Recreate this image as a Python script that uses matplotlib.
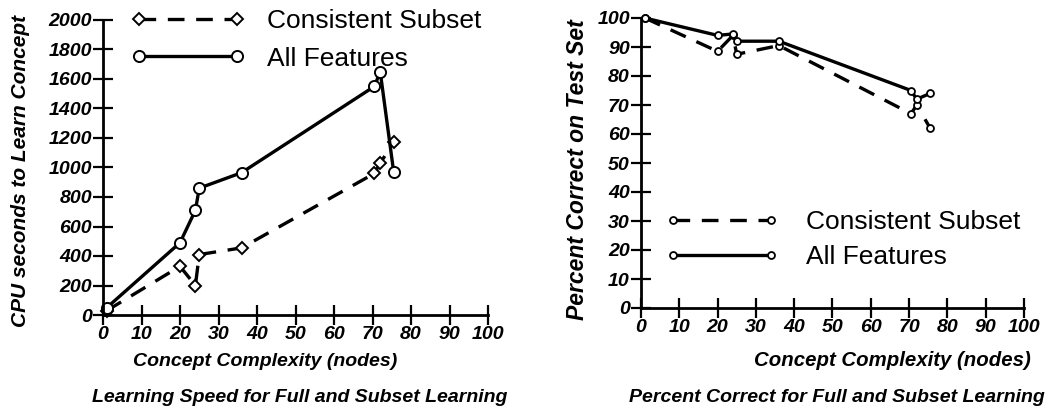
import matplotlib.pyplot as plt
from matplotlib.ticker import MultipleLocator

plt.rcParams['font.family'] = ['Liberation Sans', 'DejaVu Sans']

# concept complexity (nodes) of the test concepts
complexity = [1, 20, 24, 25, 36, 70.5, 72, 75.5]

# learning speed, CPU seconds
cpu_all = [50, 490, 710, 860, 965, 1550, 1650, 970]
cpu_subset = [30, 330, 200, 410, 455, 960, 1030, 1170]

# percent correct on test set
pct_all = [100, 94, 94.5, 92, 92, 75, 72, 74]
pct_subset = [100, 88.5, 94, 87.5, 90.5, 67, 70, 62]

labels = ['Consistent Subset', 'All Features']
x_ticks = list(range(0, 101, 10))

W, H = 1055, 417
fig = plt.figure(figsize=(W / 100, H / 100), dpi=100)


def px_axes(x0, x1, y_top, y_bot):
    return fig.add_axes([x0 / W, 1 - y_bot / H, (x1 - x0) / W, (y_bot - y_top) / H])


def style_axes(ax, ymax, ystep):
    for side in ['top', 'right']:
        ax.spines[side].set_visible(False)
    for side in ['left', 'bottom']:
        ax.spines[side].set_linewidth(2)
    ax.set_xlim(0, 100)
    ax.set_ylim(0, ymax)
    ax.set_xticks(x_ticks)
    ax.yaxis.set_major_locator(MultipleLocator(ystep))
    ax.tick_params(axis='both', which='major', direction='inout', length=14, width=1.6,
                   labelsize=14, pad=1)
    for lab in ax.get_xticklabels() + ax.get_yticklabels():
        lab.set_fontstyle('italic')
        lab.set_fontweight('bold')


def lab_font(size):
    return dict(fontsize=size, fontstyle='italic', fontweight='bold')


leg_font = dict(size=19)

# ---- left: learning speed
ax1 = px_axes(103, 488, 20, 315)
style_axes(ax1, 2000, 200)
ax1.plot(complexity, cpu_subset, color='black', lw=2.4, ls=(0, (5, 3.5)), marker='D', ms=6,
         mfc='white', mec='black', mew=1.4, clip_on=False, label=labels[0])
ax1.plot(complexity, cpu_all, color='black', lw=2.4, marker='o', ms=8,
         mfc='white', mec='black', mew=1.4, clip_on=False, label=labels[1])
ax1.set_xlabel('Concept Complexity (nodes)', **lab_font(14))
ax1.xaxis.set_label_coords((265 - 103) / 385, -(362 - 315) / 295)
ax1.xaxis.label.set_va('center')
ax1.set_ylabel('CPU seconds to Learn Concept', **lab_font(15))
ax1.yaxis.set_label_coords(-(103 - 21) / 385, (315 - 171) / 295)
ax1.yaxis.label.set_va('center')
ax1.legend(loc='upper left', bbox_to_anchor=((131 - 103) / 385, (315 - 9) / 295),
           frameon=False, prop=leg_font, numpoints=2, handlelength=4.3, handletextpad=0.85,
           labelspacing=0.52, borderaxespad=0, borderpad=0)
fig.text(300 / W, 1 - 398 / H, 'Learning Speed for Full and Subset Learning',
         ha='center', va='center', **lab_font(14))

# ---- right: percent correct
ax2 = px_axes(641, 1024, 18, 308)
style_axes(ax2, 100, 10)
ax2.plot(complexity, pct_subset, color='black', lw=2.4, ls=(0, (5, 3.5)), marker='o', ms=5,
         mfc='white', mec='black', mew=1.3, clip_on=False, label=labels[0])
ax2.plot(complexity, pct_all, color='black', lw=2.4, marker='o', ms=5,
         mfc='white', mec='black', mew=1.3, clip_on=False, label=labels[1])
ax2.set_xlabel('Concept Complexity (nodes)', **lab_font(14.7))
ax2.xaxis.set_label_coords((892 - 641) / 383, -(361 - 308) / 290)
ax2.xaxis.label.set_va('center')
ax2.set_ylabel('Percent Correct on Test Set', **lab_font(16.5))
ax2.yaxis.set_label_coords(-(641 - 578) / 383, (308 - 170) / 290)
ax2.yaxis.label.set_va('center')
ax2.legend(loc='upper left', bbox_to_anchor=((665 - 641) / 383, (308 - 210) / 290),
           frameon=False, prop=leg_font, numpoints=2, handlelength=4.3, handletextpad=1.05,
           labelspacing=0.42, borderaxespad=0, borderpad=0)
fig.text(837 / W, 1 - 398 / H, 'Percent Correct for Full and Subset Learning',
         ha='center', va='center', **lab_font(14))

fig.savefig('out.png', dpi=100)
